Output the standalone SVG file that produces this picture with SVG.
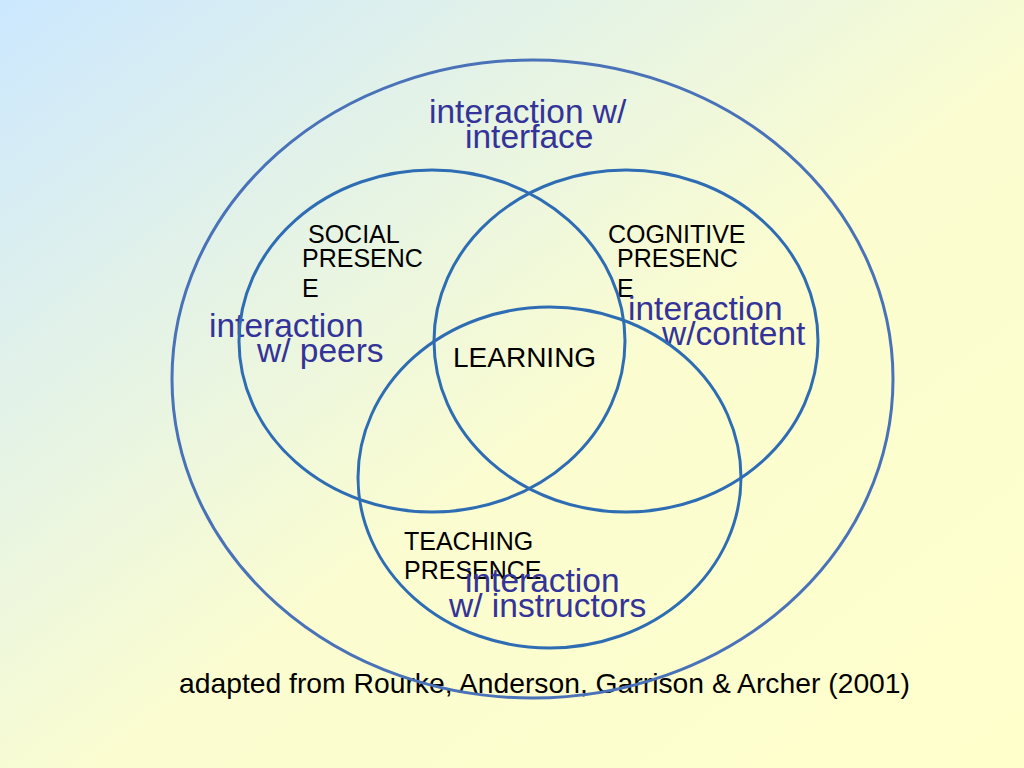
<svg xmlns="http://www.w3.org/2000/svg" width="1024" height="768" viewBox="0 0 1024 768">
<defs>
<linearGradient id="bg" x1="0" y1="0" x2="1" y2="1">
<stop offset="0" stop-color="#cce8ff"/>
<stop offset="0.55" stop-color="#fbfdd0"/>
<stop offset="1" stop-color="#ffffcc"/>
</linearGradient>
<style>
.blk{font-family:"Liberation Sans",Arial,sans-serif;font-size:25px;fill:#000}
.blu{font-family:"Liberation Sans",Arial,sans-serif;font-size:33.5px;fill:#333399}
.outer{fill:none;stroke:#4a72b8;stroke-width:3}
.inner{fill:none;stroke:#2e6db4;stroke-width:3}
</style>
</defs>
<rect width="1024" height="768" fill="url(#bg)"/>
<g id="labels">
<g id="interface-label"><text class="blu" x="429" y="123">interaction w/</text><text class="blu" x="465" y="148">interface</text></g>
<g id="social-label"><text class="blk" x="308" y="243">SOCIAL</text><text class="blk" x="302" y="267">PRESENC</text><text class="blk" x="302" y="297">E</text></g>
<g id="cognitive-label"><text class="blk" x="608" y="243">COGNITIVE</text><text class="blk" x="617" y="267">PRESENC</text><text class="blk" x="617" y="297">E</text></g>
<g id="peers-label"><text class="blu" x="209" y="337">interaction</text><text class="blu" x="257" y="362">w/ peers</text></g>
<g id="content-label"><text class="blu" x="628" y="320">interaction</text><text class="blu" x="662" y="345">w/content</text></g>
<g id="learning-label"><text class="blk" x="453" y="367" style="font-size:28px">LEARNING</text></g>
<g id="teaching-label"><text class="blk" x="404" y="550">TEACHING</text><text class="blk" x="404" y="579">PRESENCE</text></g>
<g id="instructors-label"><text class="blu" x="465" y="592">interaction</text><text class="blu" x="449" y="617">w/ instructors</text></g>
<g id="source"><text x="179" y="693" style="font-family:'Liberation Sans',Arial,sans-serif;font-size:28px;fill:#000" textLength="731" lengthAdjust="spacingAndGlyphs">adapted from Rourke, Anderson, Garrison &amp; Archer (2001)</text></g>
</g>
<g id="outer-circle"><ellipse class="outer" cx="532.5" cy="379" rx="360.5" ry="319"/></g>
<g id="social-circle"><ellipse class="inner" cx="432" cy="341" rx="193" ry="171"/></g>
<g id="cognitive-circle"><ellipse class="inner" cx="626" cy="341" rx="192" ry="171"/></g>
<g id="teaching-circle"><ellipse class="inner" cx="549.5" cy="477.5" rx="191.5" ry="170.5"/></g>
<g id="connectors"/>
</svg>
